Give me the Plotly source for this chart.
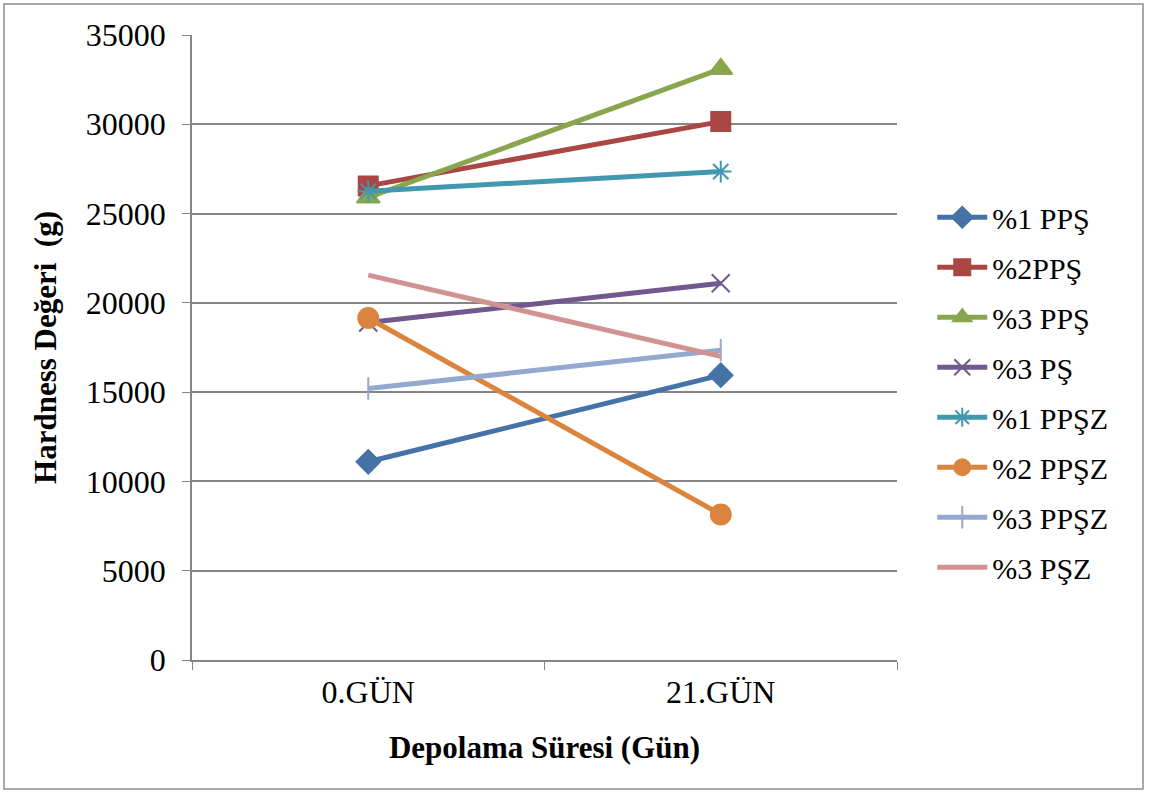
import plotly.graph_objects as go

# Storage days (categories)
days = ["0.GÜN", "21.GÜN"]

# Hardness values (g) for each formulation
s_1pps = [11100, 15950]
s_2pps = [26550, 30150]
s_3pps = [25900, 33100]
s_3ps = [18900, 21100]
s_1ppsz = [26250, 27350]
s_2ppsz = [19150, 8150]
s_3ppsz = [15200, 17350]
s_3psz = [21550, 17000]

names = ["%1 PPŞ", "%2PPŞ", "%3 PPŞ", "%3 PŞ", "%1 PPŞZ", "%2 PPŞZ", "%3 PPŞZ", "%3 PŞZ"]
series = [s_1pps, s_2pps, s_3pps, s_3ps, s_1ppsz, s_2ppsz, s_3ppsz, s_3psz]
colors = ["#4572A7", "#AA4643", "#89A54E", "#71588F", "#4198AF", "#DB843D", "#93A9CF", "#D19392"]
symbols = ["diamond", "square", "triangle-up", "x-thin-open", "asterisk-open", "circle", "line-ns-open", None]
sizes = [18, 19, 20, 18, 18, 20, 16, 0]

SERIF = "Liberation Serif"
W, H = 1150, 793
ML, MR, MT, MB = 192, 253, 35, 133

fig = go.Figure()
for i, (nm, ys) in enumerate(zip(names, series)):
    marker = dict(color=colors[i], size=sizes[i], line=dict(color=colors[i], width=2))
    mode = "lines+markers" if symbols[i] else "lines"
    if symbols[i]:
        marker["symbol"] = symbols[i]
    fig.add_trace(go.Scatter(
        x=days, y=ys, name=nm, mode=mode,
        line=dict(color=colors[i], width=5),
        marker=marker, legendgroup=nm,
    ))

# Frame around the whole chart
fw = W - ML - MR
fh = H - MT - MB
fig.add_shape(
    type="rect", xref="paper", yref="paper",
    x0=(4 - ML) / fw, x1=(W - 7 - ML) / fw,
    y0=-(H - 4 - MT - fh) / fh, y1=1 + (MT - 4) / fh,
    line=dict(color="#8c8c8c", width=1.5), fillcolor="rgba(0,0,0,0)", layer="below",
)

fig.update_layout(
    width=W, height=H,
    margin=dict(l=ML, r=MR, t=MT, b=MB),
    paper_bgcolor="white", plot_bgcolor="white",
    font=dict(family=SERIF, color="black", size=30),
    showlegend=True,
    legend=dict(
        x=1.05, y=0.75, xanchor="left", yanchor="top",
        font=dict(family=SERIF, size=30, color="black"), tracegroupgap=8, itemwidth=50,
        bgcolor="rgba(0,0,0,0)",
    ),
    xaxis=dict(
        type="category", range=[-0.5, 1.5],
        showgrid=False, showline=True, linecolor="#868686", linewidth=1.5,
        ticks="outside", tickson="boundaries", ticklen=8, tickcolor="#868686",
        tickfont=dict(family=SERIF, size=32, color="black"), ticklabelstandoff=3,
        title=dict(text="<b>Depolama Süresi (Gün)</b>",
                   font=dict(family=SERIF, size=31, color="black"), standoff=27),
    ),
    yaxis=dict(
        range=[0, 35000], dtick=5000, tickformat="d",
        showgrid=True, gridcolor="#868686", gridwidth=1.5,
        showline=True, linecolor="#868686", linewidth=1.5,
        ticks="outside", ticklen=8, tickcolor="#868686",
        tickfont=dict(family=SERIF, size=32, color="black"), zeroline=False,
        ticklabelstandoff=10,
        title=dict(text="<b>Hardness Değeri  (g)</b>",
                   font=dict(family=SERIF, size=31, color="black"), standoff=20),
    ),
)

fig.write_html("out.html")
